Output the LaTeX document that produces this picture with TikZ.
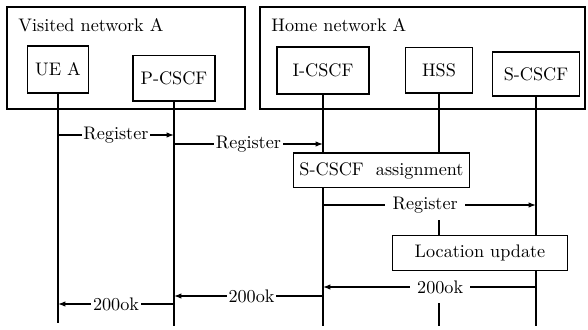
\documentclass[tikz,border=0pt]{standalone}
\usetikzlibrary{arrows.meta}
\tikzset{
net/.style={draw,line width=0.8pt},
ent/.style={draw,line width=0.8pt,fill=white,inner sep=1pt},
proc/.style={draw,line width=0.8pt,fill=white,inner sep=1pt},
life/.style={line width=1pt},
msg/.style={line width=1pt,-{Latex[length=4pt,width=3pt]}},
lbl/.style={fill=white,inner sep=1pt},
wlbl/.style={fill=white,inner sep=4pt}}

\begin{document}
\begin{tikzpicture}[x=0.55pt,y=-0.55pt]
\useasboundingbox (0,0) rectangle (588,330);
% networks
\draw[net] (7,7) rectangle (245,109);
\draw[net] (260,7) rectangle (585,109);
\node[anchor=west] (vtitle) at (12,25) {Visited network A};
\node[anchor=west] (htitle) at (265,25) {Home network A};
% entities
\node[ent,minimum width=33.5pt,minimum height=26pt] (ue) at (58,69.5) {UE A};
\node[ent,minimum width=45pt,minimum height=25pt] (pcscf) at (174,78.5) {P-CSCF};
\node[ent,minimum width=50.6pt,minimum height=26pt] (icscf) at (323,70.5) {I-CSCF};
\node[ent,minimum width=37pt,minimum height=25pt] (hss) at (439,70.5) {HSS};
\node[ent,minimum width=48pt,minimum height=24pt] (scscf) at (536,74) {S-CSCF};
% lifeline ends
\coordinate (ueend) at (58,323);
\coordinate (pend) at (174,326);
\coordinate (iend) at (323,326);
\coordinate (hend) at (439,326);
\coordinate (send) at (536,326);
\draw[life] (ue) -- (ueend);
\draw[life] (pcscf) -- (pend);
\draw[life] (icscf) -- (iend);
\draw[life] (scscf) -- (send);
% steps
\node[proc,minimum width=97pt,minimum height=19pt] (assign) at (381.5,170.5) {S-CSCF\ \ assignment};
\node[proc,minimum width=96pt,minimum height=19pt] (loc) at (480,253) {Location update};
\draw[life] (hss) -- (hss |- assign.north);
\draw[life] (hss |- 0,220) -- (hss |- loc.north);
\draw[life] (hss |- 0,303) -- (hend);
% messages
\draw[msg] (ue |- 0,135) -- node[lbl] (r1) {Register} (pcscf |- 0,135);
\draw[msg] (pcscf |- 0,144) -- node[lbl] (r2) {Register} (icscf |- 0,144);
\draw[msg] (icscf |- 0,205) -- node[wlbl,pos=0.48] (r3) {Register} (scscf |- 0,205);
\draw[msg] (scscf |- 0,287) -- node[wlbl,pos=0.45] (ok1) {200ok} (icscf |- 0,287);
\draw[msg] (icscf |- 0,296) -- node[lbl,pos=0.48] (ok2) {200ok} (pcscf |- 0,296);
\draw[msg] (pcscf |- 0,304) -- node[lbl] (ok3) {200ok} (ue |- 0,304);
\end{tikzpicture}
\end{document}
